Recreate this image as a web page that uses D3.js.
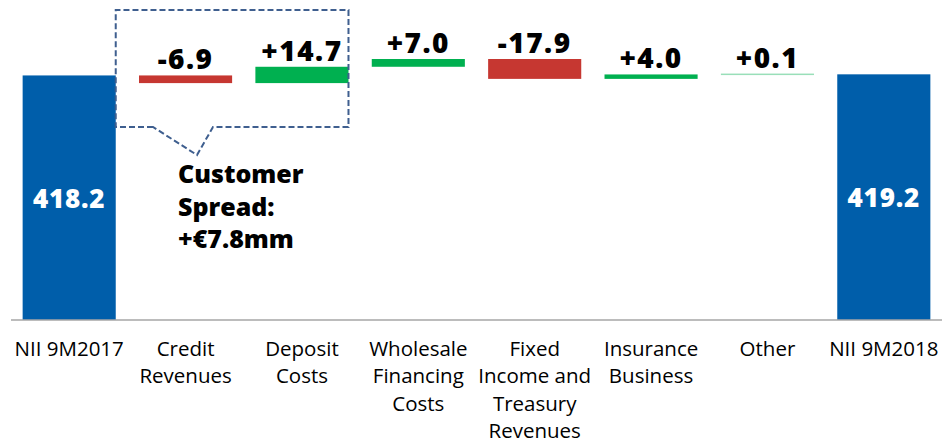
<!DOCTYPE html>
<html><head><meta charset="utf-8">
<script src="https://cdn.jsdelivr.net/npm/d3@7"></script>
<style>body{margin:0;background:#fff} svg{display:block}</style>
</head><body><svg id="c" width="943" height="443"></svg>
<script>
const categories = ["NII 9M2017","Credit Revenues","Deposit Costs","Wholesale Financing Costs","Fixed Income and Treasury Revenues","Insurance Business","Other","NII 9M2018"];
const categoryLines = [["NII 9M2017"],["Credit","Revenues"],["Deposit","Costs"],["Wholesale","Financing","Costs"],["Fixed","Income and","Treasury","Revenues"],["Insurance","Business"],["Other"],["NII 9M2018"]];
const kinds = ["total","delta","delta","delta","delta","delta","delta","total"];
const values = [418.2,-6.9,14.7,7.0,-17.9,4.0,0.1,419.2];
const valueLabels = ["418.2","-6.9","+14.7","+7.0","-17.9","+4.0","+0.1","419.2"];
const calloutLines = ["Customer","Spread:","+€7.8mm"];
const calloutCategories = ["Credit Revenues","Deposit Costs"];
const axisBreakValue = 198;

const svg = d3.select("#c");
const fontBold = "'Open Sans', sans-serif";
const fontReg = "'Open Sans', sans-serif";

// waterfall computation
let run = 0;
const rows = categories.map((c,i)=>{
  let y0,y1;
  if(kinds[i]==="total"){ y0 = axisBreakValue; y1 = values[i]; run = values[i]; }
  else { y0 = run; y1 = run + values[i]; run = y1; }
  return {cat:c, kind:kinds[i], v:values[i], lo:Math.min(y0,y1), hi:Math.max(y0,y1), label:valueLabels[i], lines:categoryLines[i]};
});

const x = d3.scaleBand().domain(categories).range([11, 942]).paddingInner(0.2).paddingOuter(0.1);
const y = d3.scaleLinear().domain([axisBreakValue, d3.max(rows,d=>d.hi)]).range([320, 59]);

const color = d => d.kind==="total" ? "#005EAA" : (d.v<0 ? "#C63731" : "#00B050");

// bars
svg.append("g").selectAll("rect").data(rows).join("rect")
  .attr("x", d=>x(d.cat)).attr("width", x.bandwidth())
  .attr("y", d=>{const h=y(d.lo)-y(d.hi); return h<1.5 ? y(d.hi)-0.75 : y(d.hi);})
  .attr("height", d=>Math.max(1.5, y(d.lo)-y(d.hi)))
  .attr("fill", color)
  .attr("fill-opacity", d=> (y(d.lo)-y(d.hi))<1.5 ? 0.4 : 1);

// axis line
svg.append("line").attr("x1",11).attr("x2",942).attr("y1",320).attr("y2",320)
  .attr("stroke","#A6A6A6").attr("stroke-width",1.5);

// delta labels
svg.append("g").selectAll("text").data(rows.filter(d=>d.kind==="delta")).join("text")
  .attr("x", d=>x(d.cat)+x.bandwidth()/2).attr("y", d=>y(d.hi)-6)
  .attr("text-anchor","middle").attr("font-family",fontBold).attr("font-weight",800)
  .attr("font-size",28).attr("letter-spacing",1.5).attr("fill","#000").text(d=>d.label);

// total labels
svg.append("g").selectAll("text").data(rows.filter(d=>d.kind==="total")).join("text")
  .attr("x", d=>x(d.cat)+x.bandwidth()/2).attr("y", d=>(y(d.lo)+y(d.hi))/2+10)
  .attr("text-anchor","middle").attr("font-family",fontBold).attr("font-weight",800)
  .attr("font-size",26).attr("letter-spacing",0.8).attr("fill","#fff").text(d=>d.label);

// category labels
const cg = svg.append("g").selectAll("text").data(rows).join("text")
  .attr("text-anchor","middle").attr("font-family",fontReg).attr("font-size",20.5).attr("fill","#000")
  .attr("x", d=>x(d.cat)+x.bandwidth()/2);
cg.selectAll("tspan").data(d=>d.lines.map(l=>({l, cx:x(d.cat)+x.bandwidth()/2}))).join("tspan")
  .attr("x", t=>t.cx).attr("y",(t,i)=>356+i*27.4).text(t=>t.l);

// callout box
const bx0 = x(calloutCategories[0]) - (x.step() - x.bandwidth());
const bx1 = x(calloutCategories[1]) + x.bandwidth();
const by0 = 10, by1 = 127;
const tipX = 197, tipY = 155, g0 = 153, g1 = 213;
const path = d3.path();
path.moveTo(g0, by1); path.lineTo(bx0, by1); path.lineTo(bx0, by0); path.lineTo(bx1, by0);
path.lineTo(bx1, by1); path.lineTo(g1, by1); path.lineTo(tipX, tipY); path.closePath();
svg.append("path").attr("d", path.toString()).attr("fill","none")
  .attr("stroke","#3F5F8F").attr("stroke-width",2).attr("stroke-dasharray","6,3");

svg.append("g").selectAll("text").data(calloutLines).join("text")
  .attr("x",178).attr("y",(d,i)=>183+i*32.5)
  .attr("font-family",fontBold).attr("font-weight",800).attr("font-size",25).attr("fill","#000")
  .text(d=>d);
</script></body></html>
